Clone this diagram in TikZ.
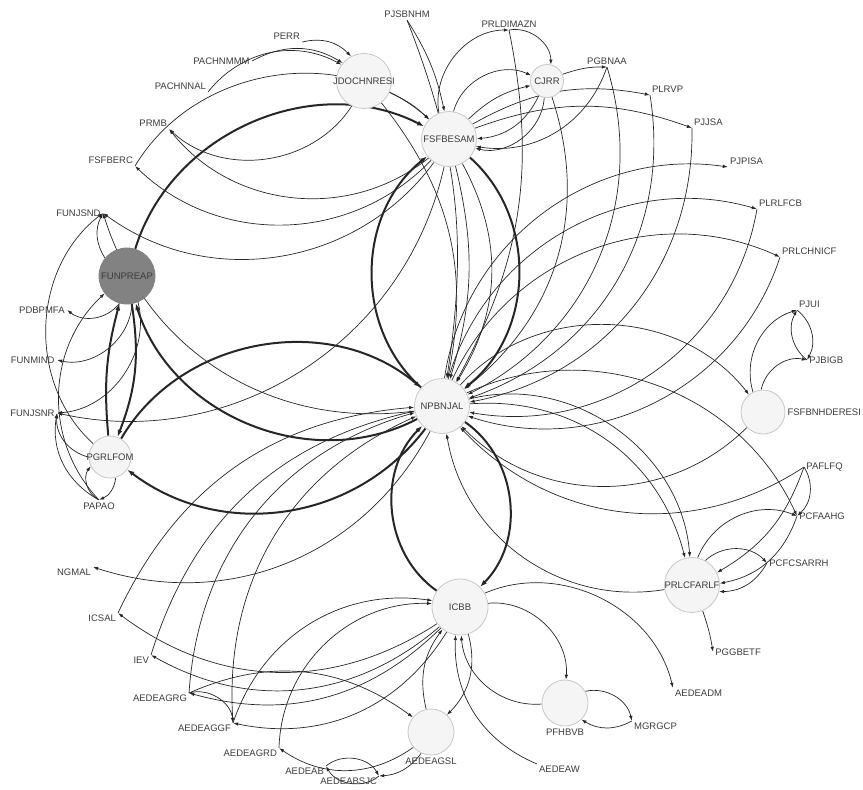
\documentclass[tikz,border=0pt]{standalone}
\usepackage{fontspec}
\setmainfont{Liberation Sans}
\usetikzlibrary{arrows.meta,backgrounds}

\definecolor{c3c3c3c}{RGB}{60,60,60}
\definecolor{c262626}{RGB}{38,38,38}
\definecolor{cf5f5f5}{RGB}{245,245,245}
\definecolor{cc8c8c8}{RGB}{200,200,200}
\definecolor{c828282}{RGB}{130,130,130}

\tikzset{
  hub/.style={circle, draw=cc8c8c8, fill=cf5f5f5, line width=0.8pt,
    inner sep=0pt, minimum size=#1},
  hub/.default=55,
  leaf/.style={inner sep=0pt, minimum size=0pt},
  lbl/.style={font=\fontsize{9.5}{11}\selectfont, text=c3c3c3c, inner sep=1pt},
  edge/.style={draw=c262626, line width=0.7pt, -{Latex[length=5pt,width=3.5pt]}},
  heavy/.style={edge, line width=2pt, -{Latex[length=7pt,width=5pt]}},
}

\begin{document}
\begin{tikzpicture}[y=1pt, x=1pt, yscale=-1, label distance=1pt]
  \useasboundingbox (0,0) rectangle (863,790);

  % hubs
  \node[hub, label={[lbl]center:FSFBESAM}] (fsfbesam) at (449,139) {};
  \node[hub, label={[lbl]center:JDOCHNRESI}] (jdochnresi) at (364,81) {};
  \node[hub=33, label={[lbl]center:CJRR}] (cjrr) at (547,81) {};
  \node[hub=56, fill=c828282, draw=c828282, label={[lbl]center:FUNPREAP}] (funpreap) at (127,276) {};
  \node[hub, label={[lbl]center:NPBNJAL}] (npbnjal) at (442,406) {};
  \node[hub=42, label={[lbl]center:PGRLFOM}] (pgrlfom) at (110,457) {};
  \node[hub=44, label={[lbl]right:FSFBNHDERESI}] (fsfbnhderesi) at (763,412) {};
  \node[hub=56, label={[lbl]center:ICBB}] (icbb) at (460,607) {};
  \node[hub, label={[lbl]center:PRLCFARLF}] (prlcfarlf) at (692,585) {};
  \node[hub=46, label={[lbl]below:PFHBVB}] (pfhbvb) at (565,703) {};
  \node[hub=46, label={[lbl]below:AEDEAGSL}] (aedeagsl) at (431,732) {};

  % leaves
  \node[leaf, label={[lbl]above:PJSBNHM}] (pjsbnhm) at (407,20) {};
  \node[leaf, label={[lbl]above left:PERR}] (perr) at (302,42) {};
  \node[leaf, label={[lbl]left:PACHNMMM}] (pachnmmm) at (252,61) {};
  \node[leaf, label={[lbl]above left:PACHNNAL}] (pachnnal) at (208,92) {};
  \node[leaf, label={[lbl]above left:PRMB}] (prmb) at (169,129) {};
  \node[leaf, label={[lbl]above left:FSFBERC}] (fsfberc) at (135,166) {};
  \node[leaf, label={[lbl]left:FUNJSND}] (funjsnd) at (103,213) {};
  \node[leaf, label={[lbl]left:PDBPMFA}] (pdbpmfa) at (67,310) {};
  \node[leaf, label={[lbl]left:FUNMIND}] (funmind) at (57,360) {};
  \node[leaf, label={[lbl]left:FUNJSNR}] (funjsnr) at (57,413) {};
  \node[leaf, label={[lbl]below:PAPAO}] (papao) at (99,500) {};
  \node[leaf, label={[lbl]below left:NGMAL}] (ngmal) at (93,567) {};
  \node[leaf, label={[lbl]below left:ICSAL}] (icsal) at (118,613) {};
  \node[leaf, label={[lbl]below left:IEV}] (iev) at (151,655) {};
  \node[leaf, label={[lbl]below left:AEDEAGRG}] (aedeagrg) at (189,693) {};
  \node[leaf, label={[lbl]below left:AEDEAGGF}] (aedeaggf) at (233,723) {};
  \node[leaf, label={[lbl]below left:AEDEAGRD}] (aedeagrd) at (279,748) {};
  \node[leaf, label={[lbl]below left:AEDEAB}] (aedeab) at (326,766) {};
  \node[leaf, label={[lbl]below left:AEDEABSJC}] (aedeabsjc) at (379,776) {};
  \node[leaf, label={[lbl]below right:AEDEAW}] (aedeaw) at (537,764) {};
  \node[leaf, label={[lbl]below right:MGRGCP}] (mgrgcp) at (632,721) {};
  \node[leaf, label={[lbl]below right:AEDEADM}] (aedeadm) at (673,688) {};
  \node[leaf, label={[lbl]right:PGGBETF}] (pggbetf) at (713,652) {};
  \node[leaf, label={[lbl]right:PCFCSARRH}] (pcfcsarrh) at (767,563) {};
  \node[leaf, label={[lbl]right:PCFAAHG}] (pcfaahg) at (797,516) {};
  \node[leaf, label={[lbl]right:PAFLFQ}] (paflfq) at (804,467) {};
  \node[leaf, label={[lbl]right:PJBIGB}] (pjbigb) at (807,360) {};
  \node[leaf, label={[lbl]above right:PJUI}] (pjui) at (797,310) {};
  \node[leaf, label={[lbl]above right:PRLCHNICF}] (prlchnicf) at (780,257) {};
  \node[leaf, label={[lbl]above right:PLRLFCB}] (plrlfcb) at (757,209) {};
  \node[leaf, label={[lbl]above right:PJPISA}] (pjpisa) at (728,167) {};
  \node[leaf, label={[lbl]above right:PJJSA}] (pjjsa) at (692,128) {};
  \node[leaf, label={[lbl]above right:PLRVP}] (plrvp) at (650,95) {};
  \node[leaf, label={[lbl]above:PGBNAA}] (pgbnaa) at (607,67) {};
  \node[leaf, label={[lbl]above:PRLDIMAZN}] (prldimazn) at (509,30) {};

  \begin{scope}[on background layer]
    % heavy edges
    \draw[heavy] (funpreap) to[bend right=50] (fsfbesam);
    \draw[heavy] (fsfbesam) to[bend right=50] (npbnjal);
    \draw[heavy] (npbnjal) to[bend right=50] (fsfbesam);
    \draw[heavy] (npbnjal) to[bend right=50] (funpreap);
    \draw[heavy] (funpreap) to[bend right=15] (pgrlfom);
    \draw[heavy] (pgrlfom) to[bend right=10] (funpreap);
    \draw[heavy] (pgrlfom) to[bend right=50] (npbnjal);
    \draw[heavy] (npbnjal) to[bend right=45] (pgrlfom);
    \draw[heavy] (npbnjal) to[bend right=50] (icbb);
    \draw[heavy] (icbb) to[bend right=50] (npbnjal);

    % top
    \draw[edge] (perr) to[bend right=30] (jdochnresi);
    \draw[edge] (pachnmmm) to[bend right=30] (jdochnresi);
    \draw[edge] (pachnnal) to[bend right=40] (jdochnresi);
    \draw[edge] (fsfberc) to[bend right=50] (fsfbesam);
    \draw[edge] (jdochnresi) to[bend right=10] (fsfbesam);
    \draw[edge] (jdochnresi) to[bend right=50] (prmb);
    \draw[edge] (fsfbesam) to[bend right=45] (prmb);
    \draw[edge] (fsfbesam) to[bend right=45] (fsfberc);
    \draw[edge] (fsfbesam) to[bend right=45] (funjsnd);
    \draw[edge] (npbnjal) to[bend right=40] (funjsnd);
    \draw[edge] (fsfbesam) to[bend right=45] (funjsnr);
    \draw[edge] (pjsbnhm) to[bend right=10] (fsfbesam);
    \draw[edge] (fsfbesam) to[bend right=50] (prldimazn);
    \draw[edge] (prldimazn) to[bend right=50] (cjrr);
    \draw[edge] (fsfbesam) to[bend right=50] (cjrr);
    \draw[edge] (fsfbesam) to[bend right=15] (cjrr);
    \draw[edge] (cjrr) to[bend right=30] (fsfbesam);
    \draw[edge] (cjrr) to[bend right=50] (fsfbesam);
    \draw[edge] (pgbnaa) to[bend right=40] (fsfbesam);
    \draw[edge] (cjrr) to[bend right=10] (pgbnaa);
    \draw[edge] (fsfbesam) to[bend right=20] (plrvp);
    \draw[edge] (fsfbesam) to[bend right=20] (pjjsa);
    \draw[edge] (npbnjal) to[bend right=45] (pjpisa);
    \draw[edge] (npbnjal) to[bend right=45] (plrlfcb);
    \draw[edge] (npbnjal) to[bend right=45] (prlchnicf);
    \draw[edge] (pgbnaa) to[bend right=40] (npbnjal);
    \draw[edge] (cjrr) to[bend right=35] (npbnjal);
    \draw[edge] (plrvp) to[bend right=40] (npbnjal);
    \draw[edge] (plrlfcb) to[bend right=45] (npbnjal);
    \draw[edge] (prlchnicf) to[bend right=45] (npbnjal);
    \draw[edge] (pjjsa) to[bend right=40] (npbnjal);
    \draw[edge] (jdochnresi) to[bend right=25] (npbnjal);
    \draw[edge] (pjsbnhm) to[bend right=15] (npbnjal);
    \draw[edge] (prldimazn) to[bend right=20] (npbnjal);
    \draw[edge] (fsfbesam) to[bend right=15] (npbnjal);
    \draw[edge] (fsfbesam) to[bend right=30] (npbnjal);

    % right
    \draw[edge] (npbnjal) to[bend right=50] (fsfbnhderesi);
    \draw[edge] (fsfbnhderesi) to[bend right=45] (npbnjal);
    \draw[edge] (fsfbnhderesi) to[bend right=45] (pjui);
    \draw[edge] (fsfbnhderesi) to[bend right=45] (pjbigb);
    \draw[edge] (pjui) to[bend right=40] (pjbigb);
    \draw[edge] (pjbigb) to[bend right=40] (pjui);
    \draw[edge] (npbnjal) to[bend right=40] (prlcfarlf);
    \draw[edge] (npbnjal) to[bend right=50] (prlcfarlf);
    \draw[edge] (prlcfarlf) to[bend right=45] (npbnjal);
    \draw[edge] (npbnjal) to[bend right=45] (pcfaahg);
    \draw[edge] (paflfq) to[bend right=40] (npbnjal);
    \draw[edge] (paflfq) to[bend right=40] (pcfaahg);
    \draw[edge] (pcfaahg) to[bend right=30] (prlcfarlf);
    \draw[edge] (paflfq) to[bend right=20] (prlcfarlf);
    \draw[edge] (prlcfarlf) to[bend right=45] (pcfaahg);
    \draw[edge] (prlcfarlf) to[bend right=45] (pcfcsarrh);
    \draw[edge] (pcfcsarrh) to[bend right=30] (prlcfarlf);
    \draw[edge] (prlcfarlf) to[bend right=5] (pggbetf);

    % bottom
    \draw[edge] (icbb) to[bend right=50] (aedeadm);
    \draw[edge] (icbb) to[bend right=50] (pfhbvb);
    \draw[edge] (pfhbvb) to[bend right=45] (icbb);
    \draw[edge] (pfhbvb) to[bend right=45] (mgrgcp);
    \draw[edge] (mgrgcp) to[bend right=30] (pfhbvb);
    \draw[edge] (aedeaw) to[bend right=35] (icbb);
    \draw[edge] (aedeagsl) to[bend right=25] (icbb);
    \draw[edge] (icbb) to[bend right=30] (aedeagsl);
    \draw[edge] (aedeagsl) to[bend right=35] (aedeagrd);
    \draw[edge] (aedeagsl) to[bend right=25] (aedeabsjc);
    \draw[edge] (aedeab) to[bend right=50] (aedeabsjc);
    \draw[edge] (aedeabsjc) to[bend right=50] (aedeab);
    \draw[edge] (aedeagrd) to[bend right=45] (icbb);
    \draw[edge] (aedeagrg) to[bend right=30] (aedeagsl);
    \draw[edge] (aedeagrg) to[bend right=50] (aedeaggf);
    \draw[edge] (icbb) to[bend right=35] (aedeaggf);
    \draw[edge] (icbb) to[bend right=30] (aedeagrg);
    \draw[edge] (aedeaggf) to[bend right=35] (npbnjal);
    \draw[edge] (aedeagrg) to[bend right=35] (npbnjal);
    \draw[edge] (aedeaggf) to[bend right=40] (icbb);
    \draw[edge] (icbb) to[bend right=35] (iev);
    \draw[edge] (icbb) to[bend right=35] (icsal);
    \draw[edge] (iev) to[bend right=30] (npbnjal);
    \draw[edge] (icsal) to[bend right=30] (npbnjal);
    \draw[edge] (npbnjal) to[bend right=40] (ngmal);

    % left
    \draw[edge] (funpreap) to[bend right=45] (pdbpmfa);
    \draw[edge] (funpreap) to[bend right=50] (funmind);
    \draw[edge] (funpreap) to[bend right=50] (funjsnr);
    \draw[edge] (funpreap) to[bend right=30] (funjsnd);
    \draw[edge] (pgrlfom) to[bend right=50] (funjsnd);
    \draw[edge] (papao) to[bend right=45] (funpreap);
    \draw[edge] (pgrlfom) to[bend right=40] (funjsnr);
    \draw[edge] (papao) to[bend right=35] (funjsnr);
    \draw[edge] (papao) to[bend right=50] (pgrlfom);
    \draw[edge] (pgrlfom) to[bend right=30] (papao);
  \end{scope}
\end{tikzpicture}
\end{document}
